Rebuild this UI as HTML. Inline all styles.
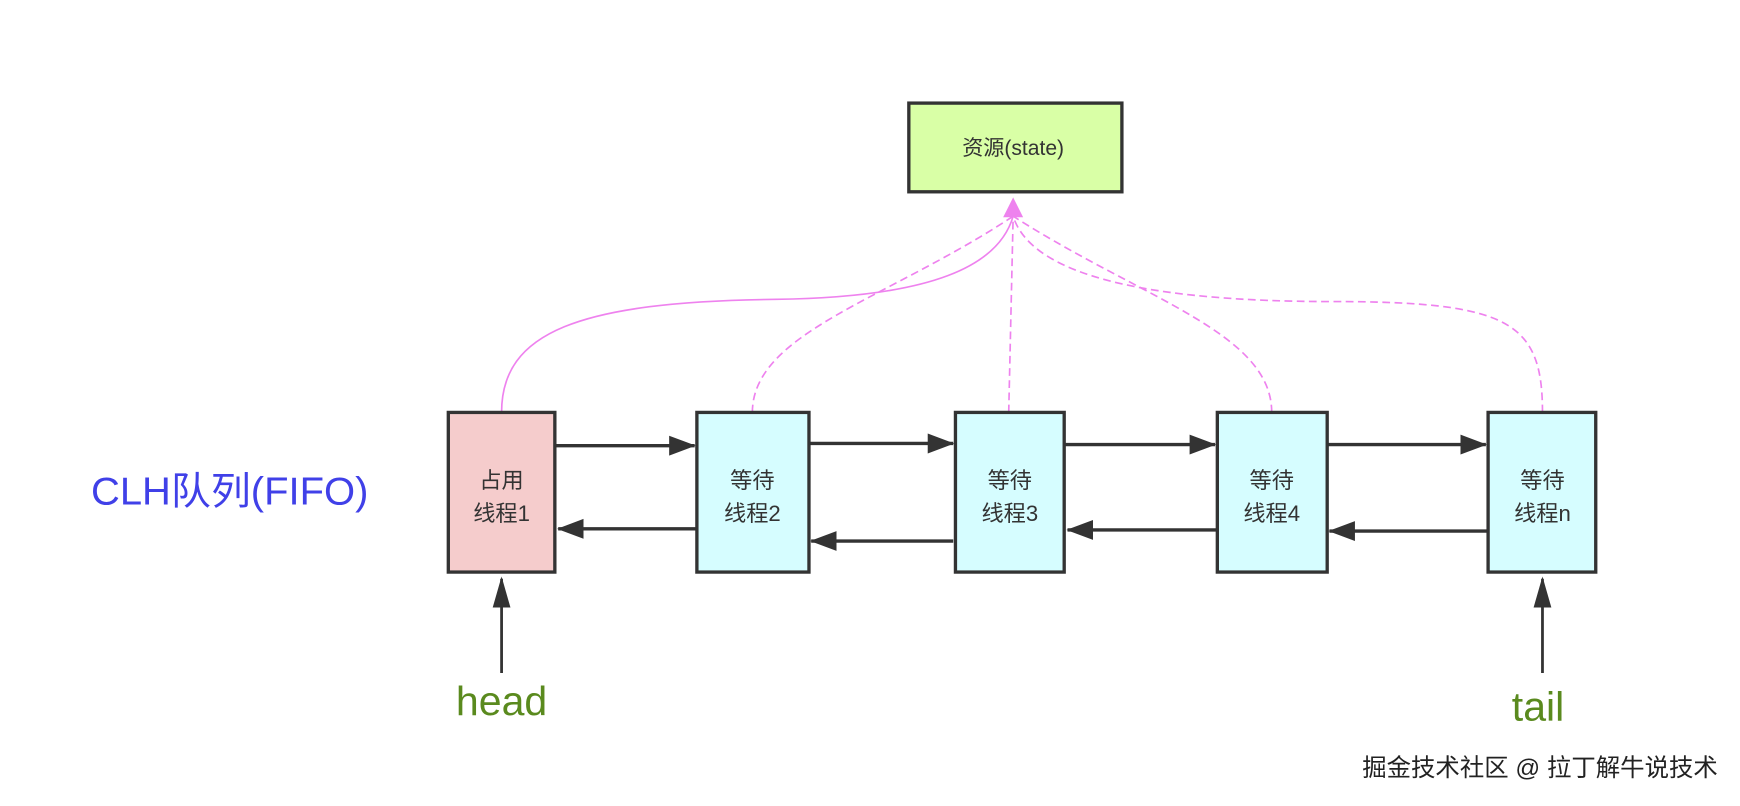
<!DOCTYPE html>
<html><head><meta charset="utf-8"><style>
html,body{margin:0;padding:0;background:#fff;width:1740px;height:806px;overflow:hidden}
svg{display:block}
text{font-family:"Liberation Sans","Noto Sans CJK SC",sans-serif}
</style></head><body>
<svg width="1740" height="806" viewBox="0 0 1568 727" preserveAspectRatio="none">
<defs>
<marker id="big" markerWidth="24" markerHeight="20" refX="23" refY="10" orient="auto" markerUnits="userSpaceOnUse"><path d="M0,1 L24,10 L0,19 z" fill="#333"/></marker>
</defs>
<rect x="819" y="93" width="192" height="80" fill="#d9ffa6" stroke="#333" stroke-width="3"/>
<text x="913" y="140" font-size="19" text-anchor="middle" fill="#333">资源(state)</text>
<g fill="none" stroke="#ee82ee" stroke-width="1.5">
<path d="M452,372 C452,300 520,272 700,270 C840,268 900,240 913,195"/>
<path d="M678,372 C678,300 800,270 913,195" stroke-dasharray="7,4"/>
<path d="M909,372 L913,195" stroke-dasharray="7,4"/>
<path d="M1146,372 C1146,300 1030,270 913,195" stroke-dasharray="7,4"/>
<path d="M1390,372 C1390,290 1360,272 1200,272 C1040,272 930,250 913,195" stroke-dasharray="7,4"/>
</g>
<path d="M913,178 L922,196 L904,196 z" fill="#ee82ee"/>
<rect x="404" y="372" width="96" height="144" fill="#f5cccc" stroke="#333" stroke-width="3"/>
<rect x="628" y="372" width="101" height="144" fill="#d6fdff" stroke="#333" stroke-width="3"/>
<rect x="861" y="372" width="98" height="144" fill="#d6fdff" stroke="#333" stroke-width="3"/>
<rect x="1097" y="372" width="99" height="144" fill="#d6fdff" stroke="#333" stroke-width="3"/>
<rect x="1341" y="372" width="97" height="144" fill="#d6fdff" stroke="#333" stroke-width="3"/>
<g font-size="20" fill="#333" text-anchor="middle">
<text x="452" y="440">占用</text><text x="452" y="470">线程1</text>
<text x="678" y="440">等待</text><text x="678" y="470">线程2</text>
<text x="910" y="440">等待</text><text x="910" y="470">线程3</text>
<text x="1146" y="440">等待</text><text x="1146" y="470">线程4</text>
<text x="1390" y="440">等待</text><text x="1390" y="470">线程n</text>
</g>
<g stroke="#333" stroke-width="3" fill="none">
<line x1="501" y1="402" x2="626" y2="402" marker-end="url(#big)"/>
<line x1="730" y1="400" x2="859" y2="400" marker-end="url(#big)"/>
<line x1="960" y1="401" x2="1095" y2="401" marker-end="url(#big)"/>
<line x1="1197" y1="401" x2="1339" y2="401" marker-end="url(#big)"/>
<line x1="627" y1="477" x2="503" y2="477" marker-end="url(#big)"/>
<line x1="859" y1="488" x2="731" y2="488" marker-end="url(#big)"/>
<line x1="1096" y1="478" x2="962" y2="478" marker-end="url(#big)"/>
<line x1="1340" y1="479" x2="1198" y2="479" marker-end="url(#big)"/>
<line x1="452" y1="607" x2="452" y2="522" stroke-width="2.5"/>
<line x1="1390" y1="607" x2="1390" y2="522" stroke-width="2.5"/>
</g>
<path d="M452,520 L460,548 L444,548 z" fill="#333"/>
<path d="M1390,520 L1398,548 L1382,548 z" fill="#333"/>
<text x="82" y="455" font-size="35" fill="#4040e8" textLength="250" lengthAdjust="spacingAndGlyphs">CLH队列(FIFO)</text>
<text x="452" y="645" font-size="37" fill="#5a8a1e" text-anchor="middle">head</text>
<text x="1386" y="650" font-size="37" fill="#5a8a1e" text-anchor="middle">tail</text>
<text x="1548" y="700" font-size="22" fill="#222" text-anchor="end">掘金技术社区 @ 拉丁解牛说技术</text>
</svg>
</body></html>
